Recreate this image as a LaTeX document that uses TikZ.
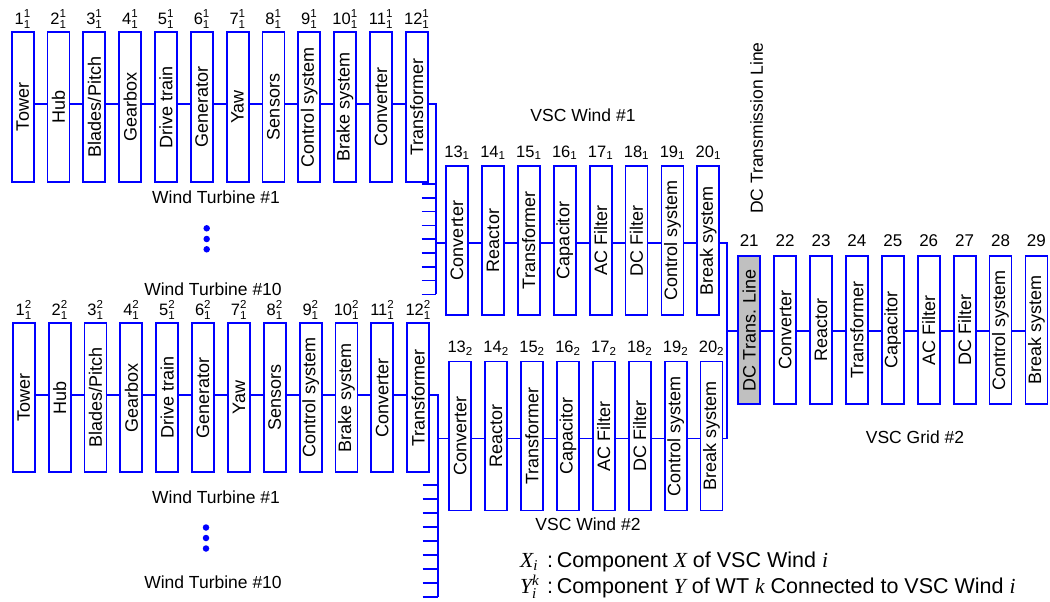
\documentclass[tikz,border=0pt]{standalone}
\usepackage{fontspec}
\setmainfont{Liberation Sans}
\newfontfamily\tms{Liberation Serif}
\usepackage{amsmath}
\definecolor{lineblue}{RGB}{0,0,255}
\definecolor{boxgrey}{RGB}{192,192,192}
\tikzset{
  comp/.style={draw=lineblue, line width=1.8pt, fill=white, inner sep=0pt, minimum width=22pt, font=\fontsize{18}{20}\selectfont},
  wire/.style={draw=lineblue, line width=1.6pt},
  numlbl/.style={inner sep=0pt, font=\fontsize{16.5}{19}\selectfont},
  title/.style={inner sep=0pt, font=\fontsize{17.5}{20}\selectfont},
  legend/.style={inner sep=0pt, font=\fontsize{21.5}{24}\selectfont},
  dotmark/.style={circle, fill=lineblue, inner sep=0pt, minimum size=6.5pt},
}
\begin{document}
\begin{tikzpicture}[x=1pt,y=-1pt]
\useasboundingbox[fill=white] (0,0) rectangle (1050,602);

% ---------- Wind turbine row 1 (top) ----------
\foreach \lab [count=\k] in {Tower,Hub,{Blades/Pitch},Gearbox,{Drive train},Generator,Yaw,Sensors,{Control system},{Brake system},Converter,Transformer}{
  \node[comp, minimum height=150pt] (wa\k) at ({22.7+35.82*(\k-1)},107) {\rotatebox{90}{\lab}};
  \node[numlbl, anchor=base] at ([yshift=7pt]wa\k.north) {$\text{\k}^{\text{1}}_{\text{1}}$};
}
\foreach \k in {1,...,11}{
  \pgfmathtruncatemacro\n{\k+1}
  \draw[wire] ([yshift=3pt]wa\k.east) -- ([yshift=3pt]wa\n.west);
}

% ---------- Wind turbine row 2 (bottom) ----------
\foreach \lab [count=\k] in {Tower,Hub,{Blades/Pitch},Gearbox,{Drive train},Generator,Yaw,Sensors,{Control system},{Brake system},Converter,Transformer}{
  \node[comp, minimum height=149pt] (wb\k) at ({23.8+35.85*(\k-1)},397.7) {\rotatebox{90}{\lab}};
  \node[numlbl, anchor=base] at ([yshift=7pt]wb\k.north) {$\text{\k}^{\text{2}}_{\text{1}}$};
}
\foreach \k in {1,...,11}{
  \pgfmathtruncatemacro\n{\k+1}
  \draw[wire] ([yshift=2.7pt]wb\k.east) -- ([yshift=2.7pt]wb\n.west);
}

% ---------- VSC Wind #1 ----------
\foreach \lab [count=\j from 0] in {Converter,Reactor,Transformer,Capacitor,{AC Filter},{DC Filter},{Control system},{Break system}}{
  \pgfmathtruncatemacro\n{13+\j}
  \node[comp, minimum height=149pt] (va\n) at ({457+35.9*\j},240.5) {\rotatebox{90}{\lab}};
  \node[numlbl, anchor=base] at ([yshift=8pt]va\n.north) {$\text{\n}_{\text{1}}$};
}
\foreach \k in {13,...,19}{
  \pgfmathtruncatemacro\n{\k+1}
  \draw[wire] ([yshift=-2.5pt]va\k.east) -- ([yshift=-2.5pt]va\n.west);
}

% ---------- VSC Wind #2 ----------
\foreach \lab [count=\j from 0] in {Converter,Reactor,Transformer,Capacitor,{AC Filter},{DC Filter},{Control system},{Break system}}{
  \pgfmathtruncatemacro\n{13+\j}
  \node[comp, minimum height=149pt] (vb\n) at ({460.2+35.9*\j},436) {\rotatebox{90}{\lab}};
  \node[numlbl, anchor=base] at ([yshift=8pt]vb\n.north) {$\text{\n}_{\text{2}}$};
}
\foreach \k in {13,...,19}{
  \pgfmathtruncatemacro\n{\k+1}
  \draw[wire] ([yshift=-2.3pt]vb\k.east) -- ([yshift=-2.3pt]vb\n.west);
}

% ---------- VSC Grid #2 ----------
\foreach \lab [count=\j from 0] in {{DC Trans. Line},Converter,Reactor,Transformer,Capacitor,{AC Filter},{DC Filter},{Control system},{Break system}}{
  \pgfmathtruncatemacro\n{21+\j}
  \node[comp, minimum height=148pt] (g\n) at ({749.2+35.9*\j},330.2) {\rotatebox{90}{\lab}};
  \node[numlbl, anchor=base, font=\fontsize{17}{19}\selectfont] at ([yshift=9pt]g\n.north) {\n};
}
\node[comp, minimum height=148pt, fill=boxgrey] at (g21) {\rotatebox{90}{DC Trans. Line}};
\foreach \k in {21,...,28}{
  \pgfmathtruncatemacro\n{\k+1}
  \draw[wire] ([yshift=-0.8pt]g\k.east) -- ([yshift=-0.8pt]g\n.west);
}

% ---------- collecting bus, top ----------
\coordinate (busAtop) at (436,104);
\coordinate (busAbot) at (436,294.4);
\draw[wire] ([yshift=3pt]wa12.east) -| (busAbot);
\foreach \i in {0,...,8}{
  \coordinate (ta\i) at (421.7,{184+13.8*\i});
  \draw[wire] (ta\i) -- (ta\i -| busAtop);
}
\coordinate (v1in) at ([yshift=-2.5pt]va13.west);
\draw[wire] (v1in) -- (v1in -| busAtop);

% ---------- collecting bus, bottom ----------
\coordinate (busBtop) at (437.7,395);
\coordinate (busBbot) at (437.7,597.3);
\draw[wire] ([yshift=2.7pt]wb12.east) -| (busBbot);
\foreach \i in {0,...,8}{
  \coordinate (tb\i) at (422.7,{485+14*\i});
  \draw[wire] (tb\i) -- (tb\i -| busBtop);
}
\coordinate (v2in) at ([yshift=-2.3pt]vb13.west);
\draw[wire] (v2in) -- (v2in -| busBtop);

% ---------- DC link ----------
\coordinate (rbbot) at (727,438.3);
\draw[wire] ([yshift=-2.5pt]va20.east) -| (rbbot) -- ([yshift=-2.3pt]vb20.east);
\coordinate (gin) at ([yshift=-0.8pt]g21.west);
\draw[wire] (gin) -- (gin -| rbbot);

% ---------- titles ----------
\node[title] (dctl) at (756.7,128) {\rotatebox{90}{DC Transmission Line}};
\node[title] (vw1) at (583,115) {VSC Wind \#1};
\node[title] (vw2) at (588,524) {VSC Wind \#2};
\node[title] (vg2) at (915,437) {VSC Grid \#2};

\node[title] (wta1) at (216,197) {Wind Turbine \#1};
\node[dotmark] (da1) at (206.7,228.3) {};
\node[dotmark] (da2) at (206.7,239) {};
\node[dotmark] (da3) at (206.7,249.3) {};
\node[title] (wta10) at (213,289) {Wind Turbine \#10};

\node[title] (wtb1) at (216,497) {Wind Turbine \#1};
\node[dotmark] (db1) at (206,527.5) {};
\node[dotmark] (db2) at (206,538) {};
\node[dotmark] (db3) at (206,548.5) {};
\node[title] (wtb10) at (213,582) {Wind Turbine \#10};

% ---------- legend ----------
\node[legend, anchor=base west] (leg1) at (520,567)
  {\makebox[27pt][l]{{\tms\itshape X}$_{\text{\tms\itshape i}}$}:\,Component {\tms\itshape X} of VSC Wind {\tms\itshape i}};
\node[legend, anchor=base west] (leg2) at (520,593)
  {\makebox[27pt][l]{{\tms\itshape Y}$^{\text{\tms\itshape k}}_{\text{\tms\itshape i}}$}:\,Component {\tms\itshape Y} of WT {\tms\itshape k} Connected to VSC Wind {\tms\itshape i}};
\end{tikzpicture}
\end{document}
